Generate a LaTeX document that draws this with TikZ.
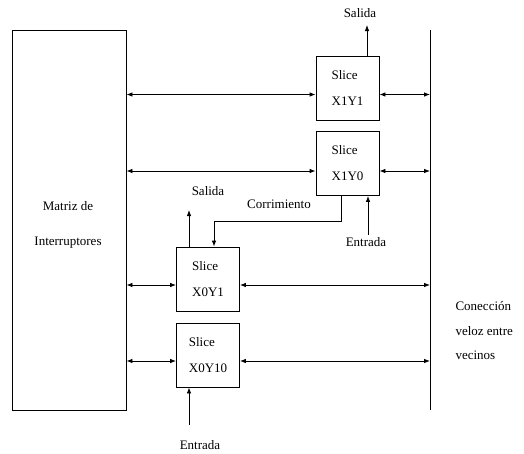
\documentclass[tikz,border=0pt]{standalone}
\usepackage{fontspec}
\setmainfont{Liberation Serif}
\usepackage{tikz}
\usetikzlibrary{arrows.meta,calc,positioning}

\begin{document}
\begin{tikzpicture}[
    x=1pt, y=-1pt,
    every node/.style={font=\fontsize{13}{26}\selectfont},
    slicebox/.style={rectangle, draw, line width=0.8pt, minimum width=63pt, minimum height=64pt, align=left, inner sep=0pt},
    arrow/.style={-{Latex[length=6pt,width=4.5pt]}, line width=0.8pt},
    biarrow/.style={{Latex[length=6pt,width=4.5pt]}-{Latex[length=6pt,width=4.5pt]}, line width=0.8pt}
]
\useasboundingbox (0,0) rectangle (524,453);

% Switch matrix and neighbour bus
\node[rectangle, draw, line width=0.8pt, minimum width=114pt, minimum height=380pt, inner sep=0pt] (matriz) at (69,220) {};
\node[align=center, font=\fontsize{13}{35}\selectfont] (matrizlbl) at (68,225) {Matriz de\\Interruptores};
\coordinate (busT) at (430,30);
\coordinate (busB) at (430,410);
\draw[line width=0.8pt] (busT) -- (busB);
\node[anchor=west, align=left, font=\fontsize{13}{24.5}\selectfont] (buslbl) at (452,331) {Conección\\veloz entre\\vecinos};

% Slices
\node[slicebox] (s11) at (347.5,88) {Slice\\X1Y1};
\node[slicebox] (s10) at (347.5,163.5) {Slice\\X1Y0};
\node[slicebox] (s01) at (208,279) {Slice\\X0Y1};
\node[slicebox] (s00) at (208,355) {Slice\\X0Y10};

% Links to matrix and bus
\draw[biarrow] ([yshift=-6.5pt]s11.west -| matriz.east) -- ([yshift=-6.5pt]s11.west);
\draw[biarrow] ([yshift=-6.5pt]s11.east) -- ([yshift=-6.5pt]s11.east -| busT);
\draw[biarrow] ([yshift=-7.5pt]s10.west -| matriz.east) -- ([yshift=-7.5pt]s10.west);
\draw[biarrow] ([yshift=-7.5pt]s10.east) -- ([yshift=-7.5pt]s10.east -| busT);
\draw[biarrow] ([yshift=-6pt]s01.west -| matriz.east) -- ([yshift=-6pt]s01.west);
\draw[biarrow] ([yshift=-6pt]s01.east) -- ([yshift=-6pt]s01.east -| busT);
\draw[biarrow] ([yshift=-6pt]s00.west -| matriz.east) -- ([yshift=-6pt]s00.west);
\draw[biarrow] ([yshift=-6pt]s00.east) -- ([yshift=-6pt]s00.east -| busT);

% Inputs, outputs and shift chain
\node (salidaA) at (360,13) {Salida};
\coordinate (salA) at (367,25);
\draw[arrow] (s11.north -| salA) -- (salA);

\node (entradaA) at (366,242) {Entrada};
\coordinate (entA) at (368,235);
\draw[arrow] (entA) -- (entA |- s10.south);

\node (corrlbl) at (279,204) {Corrimiento};
\coordinate (corrA) at (341,221);
\draw[arrow] (s10.south -| corrA) -- (corrA) -| ([xshift=6pt]s01.north);

\node (salidaB) at (208,191) {Salida};
\coordinate (salB) at (189,210);
\draw[arrow] (s01.north -| salB) -- (salB);

\node (entradaB) at (200,445) {Entrada};
\coordinate (entB) at (189,425);
\draw[arrow] (entB) -- (entB |- s00.south);

\end{tikzpicture}
\end{document}
